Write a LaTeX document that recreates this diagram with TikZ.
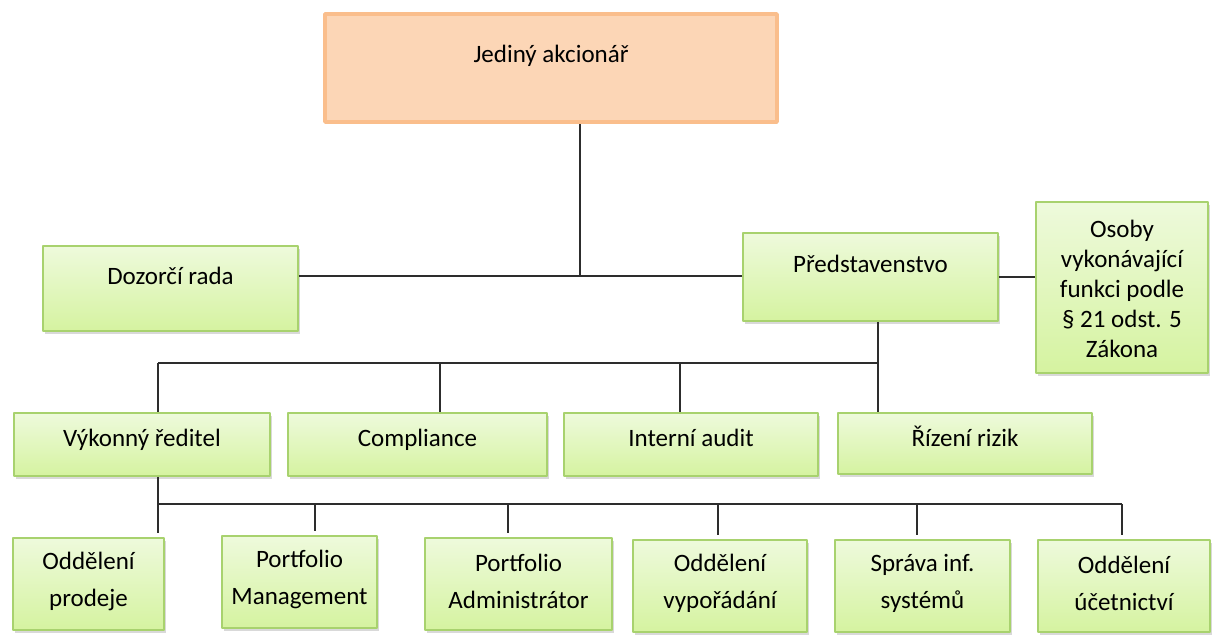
\documentclass[tikz,border=0pt]{standalone}
\usepackage{fontspec}
\setmainfont{Carlito}
\usetikzlibrary{shadows}

\definecolor{unittop}{RGB}{238,250,220}
\definecolor{unitbot}{RGB}{213,243,160}
\definecolor{unitline}{RGB}{168,210,110}
\definecolor{ownerfill}{RGB}{252,214,182}
\definecolor{ownerline}{RGB}{250,190,140}
\definecolor{wirecol}{RGB}{45,45,45}

\begin{document}
\begin{tikzpicture}[x=1pt,y=-1pt,line join=bevel,
  unit/.style={draw=unitline,line width=1.5pt,top color=unittop,bottom color=unitbot,
    inner sep=0pt,drop shadow={shadow xshift=1.5pt,shadow yshift=-3pt,opacity=0.3}},
  owner/.style={draw=ownerline,line width=4.5pt,fill=ownerfill,inner sep=0pt,
    drop shadow={shadow xshift=1pt,shadow yshift=-2pt,opacity=0.15}},
  lbl/.style={font=\fontsize{25}{30}\selectfont,align=center,inner sep=0pt,anchor=base},
  lbl2/.style={font=\fontsize{25}{37}\selectfont,align=center,inner sep=0pt},
  wire/.style={draw=wirecol,line width=1.6pt}]
\useasboundingbox (0,0) rectangle (1217,642);

% Node: jediny
\node[owner,minimum width=452,minimum height=108] (jediny) at (551,68) {};
\node[lbl] (jediny-t) at (551,63) {Jediný akcionář};

% Node: dozorci
\node[unit,minimum width=255,minimum height=85] (dozorci) at (170.5,288.5) {};
\node[lbl] (dozorci-t) at (170.5,284) {Dozorčí rada};

% Node: predst
\node[unit,minimum width=255,minimum height=88] (predst) at (870.5,277) {};
\node[lbl] (predst-t) at (870.5,272) {Představenstvo};

% Node: osoby
\node[unit,minimum width=172,minimum height=171] (osoby) at (1122,287.5) {};
\node[lbl,anchor=center,font=\fontsize{25}{30}\selectfont] (osoby-t) at (1122,289)
  {Osoby\\vykonávající\\funkci podle\\§ 21 odst. 5\\Zákona};

% Nodes: second row
\node[unit,minimum width=256,minimum height=63] (vykonny) at (142,444.5) {};
\node[lbl] (vykonny-t) at (142,446) {Výkonný ředitel};
\node[unit,minimum width=259,minimum height=63] (compliance) at (417.5,444.5) {};
\node[lbl] (compliance-t) at (417.5,446) {Compliance};
\node[unit,minimum width=254,minimum height=63] (audit) at (691,444.5) {};
\node[lbl] (audit-t) at (691,446) {Interní audit};
\node[unit,minimum width=254,minimum height=61] (rizeni) at (965,443.5) {};
\node[lbl] (rizeni-t) at (965,446) {Řízení rizik};

% Nodes: third row
\node[unit,minimum width=151,minimum height=92] (prodeje) at (88.5,584) {};
\node[lbl2] (prodeje-t) at (88.5,581) {Oddělení\\prodeje};
\node[unit,minimum width=155,minimum height=92] (portman) at (299.5,582) {};
\node[lbl2] (portman-t) at (299.5,579) {Portfolio\\Management};
\node[unit,minimum width=187,minimum height=92] (portadm) at (518.5,584) {};
\node[lbl2] (portadm-t) at (518.5,581) {Portfolio\\Administrátor};
\node[unit,minimum width=174,minimum height=92] (vyporadani) at (720,586) {};
\node[lbl2] (vyporadani-t) at (720,583) {Oddělení\\vypořádání};
\node[unit,minimum width=175,minimum height=92] (sprava) at (922.5,586) {};
\node[lbl2] (sprava-t) at (922.5,583) {Správa inf.\\systémů};
\node[unit,minimum width=172,minimum height=92] (ucetnictvi) at (1124,586) {};
\node[lbl2] (ucetnictvi-t) at (1124,583) {Oddělení\\účetnictví};

% Junctions
\coordinate (top) at (580,276);
\coordinate (bus1) at (878,363);
\coordinate (bus2) at (158,504);

% Edge: jediny -> dozorci, predst
\draw[wire] (jediny.south -| top) -- (top);
\draw[wire] (dozorci.east |- top) -- (predst.west |- top);

% Edge: predst -> osoby
\draw[wire] (predst.east) -- (osoby.west |- predst.east);

% Edge: predst -> second row
\draw[wire] (predst.south -| bus1) -- (bus1) -- (rizeni.north -| bus1);
\draw[wire] (bus1) -- (158,363);
\foreach \n/\x in {vykonny/158,compliance/440,audit/680}
  \draw[wire] (\x,363) -- (\n.north -| \x,0);

% Edge: vykonny -> third row
\draw[wire,shorten >=4pt] (vykonny.south -| bus2) -- (bus2) -- (prodeje.north -| bus2);
\draw[wire] (bus2) -- (1122,504);
\foreach \n/\x in {portman/315,portadm/508,vyporadani/718,sprava/917,ucetnictvi/1122}
  \draw[wire,shorten >=4pt] (\x,504) -- (\n.north -| \x,0);

\end{tikzpicture}
\end{document}
